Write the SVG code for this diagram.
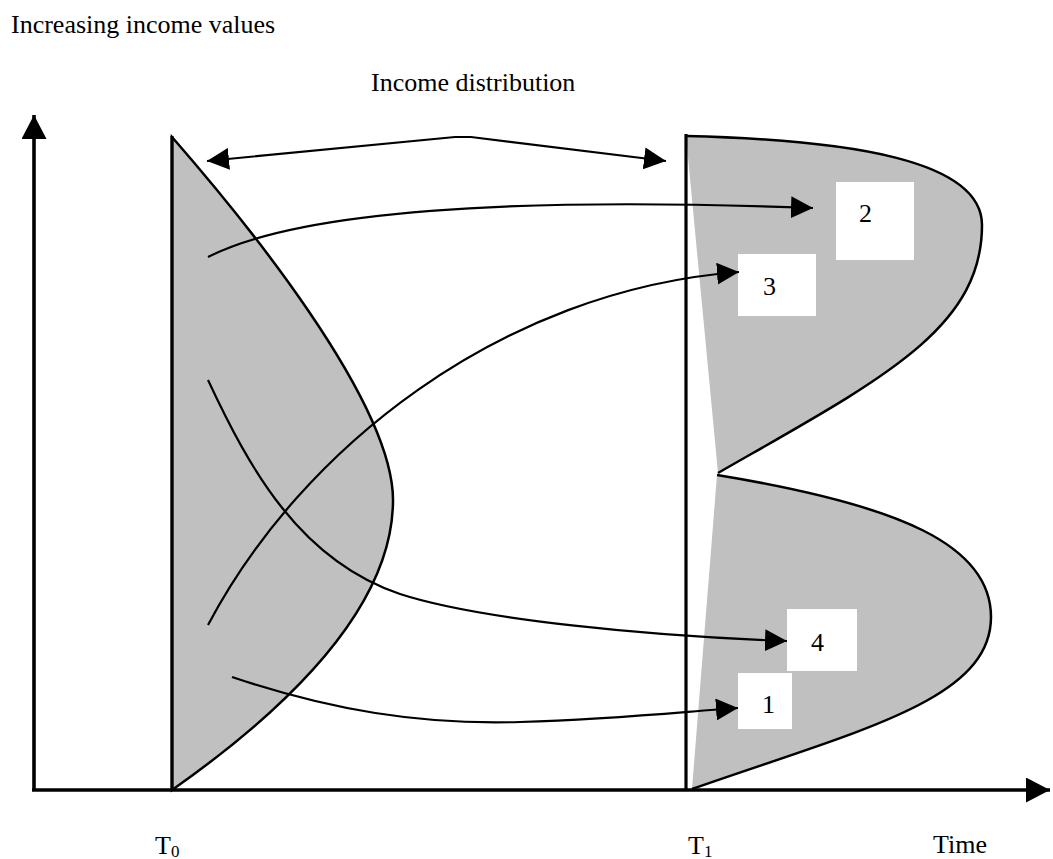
<svg xmlns="http://www.w3.org/2000/svg" width="1053" height="859" viewBox="0 0 1053 859">
<style>
.txt{font-family:"Liberation Serif","Times New Roman",serif;font-size:26px;fill:#000}
.sub{font-size:17px}
.dist{fill:#c0c0c0;stroke:#000;stroke-width:2.5;stroke-linejoin:miter}
.tline{stroke:#000;stroke-width:3.2;fill:none}
.axis{stroke:#000;stroke-width:3.6;fill:none}
.conn{stroke:#000;stroke-width:2.2;fill:none}
.box{fill:#fff}
</style>
<defs>
<marker id="ah" markerUnits="userSpaceOnUse" markerWidth="22" markerHeight="22" refX="22" refY="11" orient="auto-start-reverse" viewBox="0 0 22 22">
<path d="M0,0 L22,11 L0,22 Z" fill="#000"/>
</marker>
<marker id="axh" markerUnits="userSpaceOnUse" markerWidth="24" markerHeight="25" refX="24" refY="12.5" orient="auto" viewBox="0 0 24 25">
<path d="M0,0 L24,12.5 L0,25 Z" fill="#000"/>
</marker>
</defs>
<rect width="1053" height="859" fill="#fff"/>

<g id="dist-t0">
<path class="dist" d="M172,137 C240,215 393,400 393,500 C393,600 300,700 172,790 Z"/>
<line class="tline" x1="172" y1="136" x2="172" y2="790"/>
</g>

<g id="dist-t1">
<path class="dist" d="M686,136 C850,140 982,160 982,225 C982,330 880,380 718,473"/>
<path class="dist" d="M717,475 C900,505 991,545 991,617 C991,700 860,730 692,789"/>
<line class="tline" x1="686" y1="134" x2="686" y2="790"/>
</g>

<g id="axes">
<line class="axis" x1="34" y1="790" x2="34" y2="115" marker-end="url(#axh)"/>
<line class="axis" x1="32" y1="790" x2="1050" y2="790" marker-end="url(#axh)"/>
</g>

<g id="box-2"><rect class="box" x="836" y="182" width="78" height="78"/><text class="txt" x="859" y="222">2</text></g>
<g id="box-3"><rect class="box" x="738" y="254" width="78" height="62"/><text class="txt" x="763" y="295">3</text></g>
<g id="box-4"><rect class="box" x="787" y="609" width="70" height="62"/><text class="txt" x="811" y="651">4</text></g>
<g id="box-1"><rect class="box" x="738" y="673" width="54" height="56"/><text class="txt" x="762" y="713">1</text></g>

<g id="connectors">
<polyline class="conn" points="207,161 455,137 471,137 666,161" marker-start="url(#ah)" marker-end="url(#ah)"/>
<path class="conn" d="M208,257 C320,200 600,200 813,208" marker-end="url(#ah)"/>
<path class="conn" d="M208,625 C300,450 500,290 739,272" marker-end="url(#ah)"/>
<path class="conn" d="M208,380 C250,470 300,560 400,594 C480,620 650,636 787,641" marker-end="url(#ah)"/>
<path class="conn" d="M232,677 C330,710 420,725 520,722 S680,712 738,708" marker-end="url(#ah)"/>
</g>

<g id="labels">
<text class="txt" x="11" y="33">Increasing income values</text>
<text class="txt" x="371" y="91">Income distribution</text>
<text class="txt" x="155" y="854">T<tspan class="sub" dy="3">0</tspan></text>
<text class="txt" x="688" y="854">T<tspan class="sub" dy="3">1</tspan></text>
<text class="txt" x="933" y="853">Time</text>
</g>
</svg>
